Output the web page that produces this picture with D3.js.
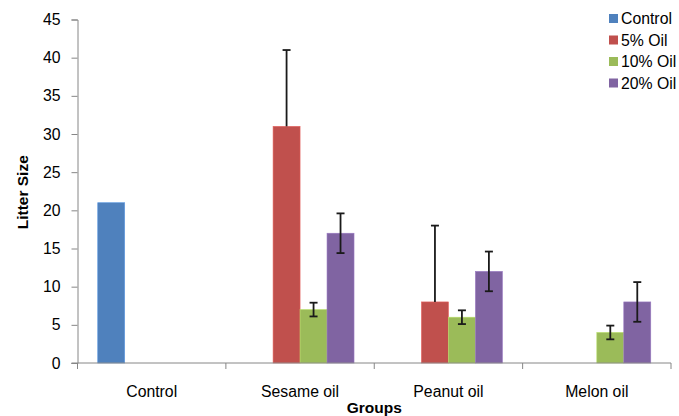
<!DOCTYPE html>
<html>
<head>
<meta charset="utf-8">
<script src="https://cdn.jsdelivr.net/npm/d3@7"></script>
<style>
  html, body { margin: 0; padding: 0; background: #fff; }
  svg { display: block; font-family: "Liberation Sans", Arial, sans-serif; }
</style>
</head>
<body>
<svg id="chart" width="679" height="416"></svg>
<script>
// ---- data ----
const categories = ["Control", "Sesame oil", "Peanut oil", "Melon oil"];
const seriesNames = ["Control", "5% Oil", "10% Oil", "20% Oil"];
const controlValues = [21, null, null, null];
const oil5Values = [null, 31, 8, null];
const oil10Values = [null, 7, 6, 4];
const oil20Values = [null, 17, 12, 8];
const controlErrPlus = [null, null, null, null];
const oil5ErrPlus = [null, 10, 10, null];
const oil10ErrPlus = [null, 0.9, 0.9, 0.9];
const oil20ErrPlus = [null, 2.6, 2.6, 2.6];
const controlErrMinus = [null, null, null, null];
const oil5ErrMinus = [null, 0, 0, null];
const oil10ErrMinus = [null, 0.9, 0.9, 0.9];
const oil20ErrMinus = [null, 2.6, 2.6, 2.6];
const yTicks = [0, 5, 10, 15, 20, 25, 30, 35, 40, 45];
const colors = ["#4F81BD", "#C0504D", "#9BBB59", "#8064A2"];

const seriesValues = [controlValues, oil5Values, oil10Values, oil20Values];
const seriesErrPlus = [controlErrPlus, oil5ErrPlus, oil10ErrPlus, oil20ErrPlus];
const seriesErrMinus = [controlErrMinus, oil5ErrMinus, oil10ErrMinus, oil20ErrMinus];

// ---- layout ----
const svg = d3.select("#chart");
const plotLeft = 77.5, plotRight = 671, plotTop = 19.5, plotBottom = 363;
const axisColor = "#868686";
const fontSize = 15.8;

const x0 = d3.scaleBand().domain(categories).range([plotLeft, plotRight]).paddingInner(0).paddingOuter(0);
const x1 = d3.scaleBand().domain(seriesNames).range([0, x0.bandwidth()]).paddingInner(0).paddingOuter(0.75);
const y = d3.scaleLinear().domain([0, 45]).range([plotBottom, plotTop]);

// flatten records
const records = [];
seriesNames.forEach((s, si) => {
  categories.forEach((c, ci) => {
    const v = seriesValues[si][ci];
    if (v !== null && v !== undefined) {
      records.push({ s, si, c, v, ep: seriesErrPlus[si][ci], em: seriesErrMinus[si][ci] });
    }
  });
});

// bars
svg.append("g").selectAll("rect").data(records).join("rect")
  .attr("x", d => x0(d.c) + x1(d.s))
  .attr("y", d => y(d.v))
  .attr("width", x1.bandwidth())
  .attr("height", d => y(0) - y(d.v))
  .attr("fill", d => colors[d.si])
  .attr("stroke", d => d3.color(colors[d.si]).brighter(0.5))
  .attr("stroke-width", 0.6);

// error bars
const eb = svg.append("g").attr("stroke", "#1a1a1a").attr("stroke-width", 1.8);
records.filter(d => d.ep !== null && d.ep !== undefined).forEach(d => {
  const cx = x0(d.c) + x1(d.s) + x1.bandwidth() / 2;
  const yTop = y(d.v + d.ep);
  const yBot = y(d.v - (d.em || 0));
  eb.append("line").attr("x1", cx).attr("x2", cx).attr("y1", yTop).attr("y2", yBot);
  eb.append("line").attr("x1", cx - 4).attr("x2", cx + 4).attr("y1", yTop).attr("y2", yTop);
  if (d.em) {
    eb.append("line").attr("x1", cx - 4).attr("x2", cx + 4).attr("y1", yBot).attr("y2", yBot);
  }
});

// y axis
const yAxis = svg.append("g").attr("transform", `translate(${plotLeft},0)`)
  .call(d3.axisLeft(y).tickValues(yTicks).tickSize(6).tickPadding(11));
yAxis.select(".domain").attr("stroke", axisColor);
yAxis.selectAll(".tick line").attr("stroke", axisColor);
yAxis.selectAll(".tick text").attr("font-size", fontSize).attr("fill", "#000").attr("font-family", "Liberation Sans, Arial, sans-serif");

// x axis
const xAxis = svg.append("g").attr("transform", `translate(0,${plotBottom})`)
  .call(d3.axisBottom(x0).tickSize(0).tickPadding(23));
xAxis.select(".domain").remove();
xAxis.selectAll(".tick text").attr("font-size", fontSize).attr("fill", "#000").attr("font-family", "Liberation Sans, Arial, sans-serif");
svg.append("line").attr("x1", plotLeft - 6).attr("x2", plotRight).attr("y1", plotBottom).attr("y2", plotBottom).attr("stroke", axisColor);
const boundaries = categories.map(c => x0(c)).concat([x0(categories[categories.length - 1]) + x0.bandwidth()]);
svg.append("g").selectAll("line").data(boundaries).join("line")
  .attr("x1", d => d).attr("x2", d => d)
  .attr("y1", plotBottom).attr("y2", plotBottom + 6)
  .attr("stroke", axisColor);

// axis titles
svg.append("text")
  .attr("transform", `translate(28,${(plotTop + plotBottom) / 2 + 1}) rotate(-90)`)
  .attr("text-anchor", "middle")
  .attr("font-size", 15.5)
  .attr("font-weight", "bold")
  .text("Litter Size");
svg.append("text")
  .attr("x", (plotLeft + plotRight) / 2)
  .attr("y", 413)
  .attr("text-anchor", "middle")
  .attr("font-size", 15.5)
  .attr("font-weight", "bold")
  .text("Groups");

// legend
const legend = svg.append("g");
seriesNames.forEach((s, i) => {
  const cy = 18.5 + i * 21.5;
  legend.append("rect").attr("x", 609).attr("y", cy - 4.5).attr("width", 9).attr("height", 9).attr("fill", colors[i]);
  legend.append("text").attr("x", 621).attr("y", cy).attr("dy", "0.35em")
    .attr("font-size", fontSize).text(s);
});
</script>
</body>
</html>
